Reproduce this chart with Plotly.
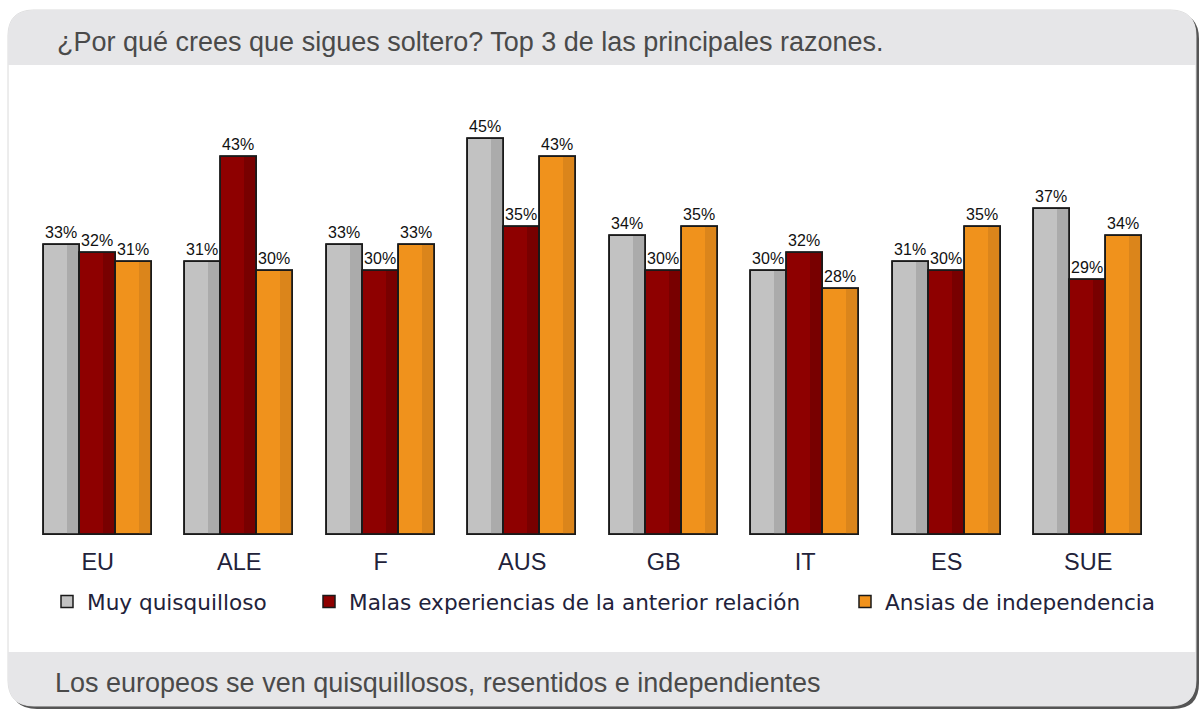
import plotly.graph_objects as go

# ---------------- data ----------------
categories = ["EU", "ALE", "F", "AUS", "GB", "IT", "ES", "SUE"]
series_names = ["Muy quisquilloso",
                "Malas experiencias de la anterior relación",
                "Ansias de independencia"]
muy_quisquilloso = [33, 31, 33, 45, 34, 30, 31, 37]
malas_experiencias = [32, 43, 30, 35, 30, 32, 30, 29]
ansias_independencia = [31, 30, 33, 43, 35, 28, 35, 34]
series_values = [muy_quisquilloso, malas_experiencias, ansias_independencia]

title_text = "¿Por qué crees que sigues soltero? Top 3 de las principales razones."
footer_text = "Los europeos se ven quisquillosos, resentidos e independientes"

# ---------------- styling ----------------
W, H = 1202, 711
ML, MR, MT, MB = 27, 43, 95, 176
PW, PH = W - ML - MR, H - MT - MB

base_colors = ["#c2c2c2", "#8e0000", "#f0921c"]
shade_colors = ["#ababab", "#780000", "#db851b"]
bar_w = 0.2544
offsets = [-0.3816, -0.1272, 0.1272]


def xp(px):
    return (px - ML) / PW


def yp(py):
    return (H - MB - py) / PH


def rrect(x0, y0, x1, y1, r, top=True, bottom=True):
    pts = []
    if top:
        pts.append(f"M{xp(x0)},{yp(y0 + r)}")
        pts.append(f"Q{xp(x0)},{yp(y0)} {xp(x0 + r)},{yp(y0)}")
        pts.append(f"L{xp(x1 - r)},{yp(y0)}")
        pts.append(f"Q{xp(x1)},{yp(y0)} {xp(x1)},{yp(y0 + r)}")
    else:
        pts.append(f"M{xp(x0)},{yp(y0)}")
        pts.append(f"L{xp(x1)},{yp(y0)}")
    if bottom:
        pts.append(f"L{xp(x1)},{yp(y1 - r)}")
        pts.append(f"Q{xp(x1)},{yp(y1)} {xp(x1 - r)},{yp(y1)}")
        pts.append(f"L{xp(x0 + r)},{yp(y1)}")
        pts.append(f"Q{xp(x0)},{yp(y1)} {xp(x0)},{yp(y1 - r)}")
    else:
        pts.append(f"L{xp(x1)},{yp(y1)}")
        pts.append(f"L{xp(x0)},{yp(y1)}")
    pts.append("Z")
    return " ".join(pts)


fig = go.Figure()

legend_ids = ["legend", "legend2", "legend3"]
for i, (name, vals) in enumerate(zip(series_names, series_values)):
    # base body
    fig.add_trace(go.Bar(
        x=categories, y=vals, name=name,
        offset=offsets[i], width=bar_w,
        marker=dict(color=base_colors[i], line=dict(color="#1a1a1a", width=1.5)),
        legend=legend_ids[i], showlegend=True, hoverinfo="skip",
    ))
    # cylinder shading on the right side
    fig.add_trace(go.Bar(
        x=categories, y=vals, name=name,
        offset=offsets[i] + 0.64 * bar_w, width=0.36 * bar_w,
        marker=dict(color=shade_colors[i], line=dict(width=0)),
        showlegend=False, hoverinfo="skip",
    ))
    # outline + value labels
    fig.add_trace(go.Bar(
        x=categories, y=vals, name=name,
        offset=offsets[i], width=bar_w,
        marker=dict(color="rgba(0,0,0,0)", line=dict(color="#1a1a1a", width=1.8)),
        text=[f"{v}%" for v in vals], textposition="outside",
        textfont=dict(family="Liberation Sans, Arial", size=16, color="#111111"),
        constraintext="none", cliponaxis=False,
        showlegend=False, hoverinfo="skip",
    ))

shapes = [
    # card shadow
    dict(type="path", xref="paper", yref="paper", layer="below",
         path=rrect(11, 13, 1199, 709, 26), fillcolor="#555555", line=dict(width=0)),
    # card
    dict(type="path", xref="paper", yref="paper", layer="below",
         path=rrect(8, 10, 1196, 706, 26), fillcolor="#ffffff",
         line=dict(color="#dadada", width=1)),
    # header band
    dict(type="path", xref="paper", yref="paper", layer="below",
         path=rrect(8, 10, 1196, 65, 26, top=True, bottom=False),
         fillcolor="#e6e6e8", line=dict(width=0)),
    # footer band
    dict(type="path", xref="paper", yref="paper", layer="below",
         path=rrect(8, 652, 1196, 706, 26, top=False, bottom=True),
         fillcolor="#e6e6e8", line=dict(width=0)),
]

annotations = [
    dict(text=title_text, xref="paper", yref="paper", x=xp(55), y=yp(42),
         xanchor="left", yanchor="middle", showarrow=False,
         font=dict(family="Liberation Sans, Arial", size=27, color="#4a4a4a")),
    dict(text=footer_text, xref="paper", yref="paper", x=xp(53), y=yp(683),
         xanchor="left", yanchor="middle", showarrow=False,
         font=dict(family="Liberation Sans, Arial", size=27, color="#4a4a4a")),
]

legend_font = dict(family="DejaVu Sans", size=21.6, color="#22223a")
leg_common = dict(orientation="h", yanchor="middle", y=yp(602), xanchor="left",
                  bgcolor="rgba(0,0,0,0)", borderwidth=0, font=legend_font,
                  itemclick=False, itemdoubleclick=False)

fig.update_layout(
    width=W, height=H,
    margin=dict(l=ML, r=MR, t=MT, b=MB, pad=0),
    paper_bgcolor="#ffffff", plot_bgcolor="rgba(0,0,0,0)",
    barmode="overlay", bargap=0,
    xaxis=dict(type="category", range=[-0.5, 7.5], showgrid=False, zeroline=False,
               showline=False, ticks="", ticklabelstandoff=10,
               tickfont=dict(family="Liberation Sans, Arial", size=23.5, color="#22223a")),
    yaxis=dict(range=[0, 50], showgrid=False, zeroline=False, showline=False,
               showticklabels=False, ticks=""),
    shapes=shapes, annotations=annotations,
    legend=dict(leg_common, x=xp(47)),
    legend2=dict(leg_common, x=xp(309)),
    legend3=dict(leg_common, x=xp(845)),
    showlegend=True,
)

fig.write_html("out.html", config={"displayModeBar": False},
               post_script="document.body.style.margin='0';document.body.style.overflow='hidden';")
